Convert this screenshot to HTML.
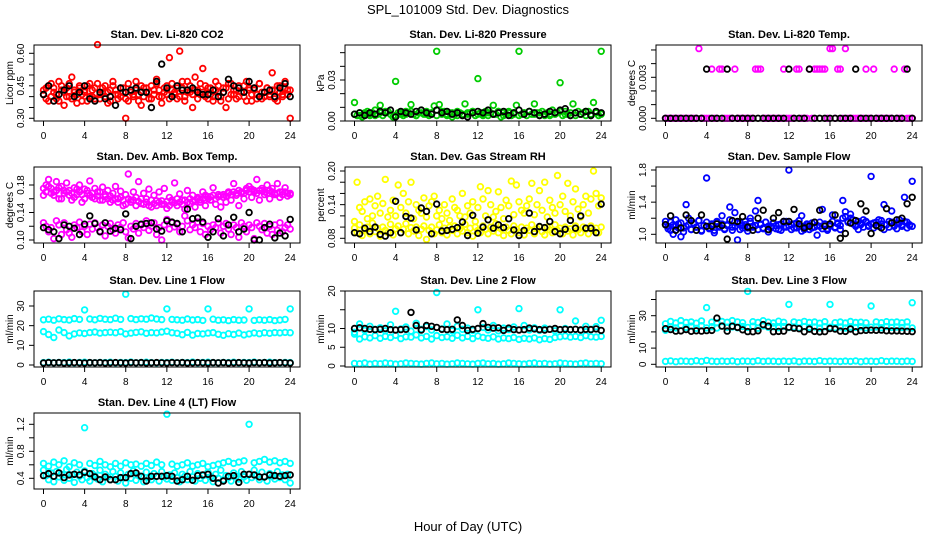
<!DOCTYPE html>
<html><head><meta charset="utf-8"><style>
html,body{margin:0;padding:0;background:#fff}
svg{display:block}
text{font-family:"Liberation Sans",Arial,sans-serif}
</style></head><body>
<svg id="chart" width="936" height="540" viewBox="0 0 936 540" xmlns="http://www.w3.org/2000/svg">
<rect x="0" y="0" width="936" height="540" fill="#fff"/>
<text x="468" y="14" font-size="13" text-anchor="middle">SPL_101009  Std. Dev. Diagnostics</text>
<text x="468" y="531" font-size="13" text-anchor="middle">Hour of Day (UTC)</text>
</svg>
<script>
// ---- data (hour comes from sample index over 0..24) ----
const xTicks = [0,4,8,12,16,20,24];
const co2Red = [0.41,0.44,0.38,0.46,0.42,0.39,0.47,0.43,0.36,0.44,0.40,0.49,0.42,0.37,0.45,0.41,0.43,0.38,0.46,0.40,0.44,0.64,0.39,0.42,0.45,0.37,0.43,0.47,0.41,0.39,0.44,0.42,0.30,0.38,0.43,0.40,0.47,0.41,0.36,0.44,0.42,0.39,0.45,0.43,0.48,0.40,0.37,0.44,0.41,0.58,0.46,0.42,0.39,0.61,0.44,0.40,0.47,0.42,0.35,0.49,0.43,0.41,0.53,0.45,0.39,0.44,0.40,0.47,0.42,0.38,0.44,0.35,0.46,0.41,0.43,0.39,0.45,0.42,0.40,0.47,0.43,0.38,0.44,0.41,0.46,0.39,0.42,0.44,0.40,0.51,0.43,0.38,0.45,0.41,0.47,0.43,0.30];
const co2Red2 = [0.43,0.39,0.45,0.40,0.44,0.41,0.38,0.45,0.42,0.40,0.46,0.39,0.43,0.41,0.44,0.38,0.42,0.45,0.40,0.43,0.39,0.46,0.41,0.44,0.40,0.42,0.38,0.45,0.43,0.41,0.40,0.44,0.39,0.46,0.42,0.41,0.43,0.38,0.45,0.40,0.44,0.42,0.39,0.41,0.46,0.43,0.40,0.42,0.45,0.39,0.43,0.41,0.44,0.40,0.47,0.38,0.42,0.45,0.41,0.43,0.39,0.46,0.42,0.40,0.44,0.41,0.38,0.43,0.45,0.40,0.42,0.44,0.39,0.46,0.41,0.43,0.40,0.42,0.45,0.38,0.44,0.41,0.43,0.39,0.46,0.42,0.40,0.44,0.41,0.43,0.39,0.45,0.42,0.40,0.44,0.41,0.43];
const co2Blk = [0.41,0.45,0.38,0.41,0.43,0.45,0.40,0.42,0.45,0.39,0.38,0.42,0.39,0.40,0.36,0.44,0.42,0.43,0.44,0.42,0.42,0.35,0.47,0.55,0.44,0.40,0.45,0.43,0.43,0.44,0.42,0.41,0.41,0.43,0.40,0.42,0.48,0.45,0.44,0.42,0.47,0.44,0.40,0.42,0.43,0.40,0.44,0.46,0.40];

const pressGreen = [0.0135,0.004,0.006,0.003,0.005,0.007,0.004,0.006,0.008,0.005,0.0115,0.004,0.006,0.007,0.005,0.003,0.029,0.006,0.005,0.004,0.007,0.006,0.012,0.005,0.004,0.006,0.008,0.005,0.007,0.004,0.006,0.011,0.051,0.012,0.005,0.007,0.004,0.006,0.003,0.005,0.007,0.006,0.004,0.0125,0.005,0.006,0.007,0.004,0.031,0.006,0.005,0.007,0.004,0.006,0.0115,0.005,0.007,0.003,0.006,0.005,0.007,0.004,0.006,0.0115,0.051,0.005,0.006,0.004,0.007,0.005,0.0125,0.006,0.004,0.007,0.005,0.006,0.004,0.008,0.005,0.006,0.028,0.004,0.007,0.005,0.006,0.0125,0.004,0.007,0.005,0.006,0.004,0.007,0.005,0.0135,0.006,0.004,0.051];
const pressGreen2 = [0.005,0.004,0.006,0.005,0.004,0.006,0.007,0.005,0.004,0.006,0.005,0.007,0.004,0.006,0.005,0.006,0.004,0.007,0.005,0.006,0.004,0.005,0.006,0.007,0.005,0.004,0.006,0.005,0.007,0.004,0.006,0.005,0.004,0.006,0.007,0.005,0.006,0.004,0.005,0.006,0.007,0.005,0.004,0.006,0.005,0.007,0.004,0.006,0.005];
const pressBlk = [0.005,0.006,0.004,0.006,0.005,0.007,0.006,0.008,0.003,0.007,0.006,0.005,0.007,0.008,0.006,0.005,0.008,0.006,0.007,0.005,0.006,0.004,0.003,0.006,0.007,0.006,0.008,0.005,0.006,0.007,0.004,0.006,0.008,0.005,0.007,0.006,0.004,0.005,0.007,0.006,0.008,0.009,0.004,0.006,0.005,0.007,0.004,0.007,0.006];

const tempMag = [0,0,0,0,0,0,0,0,0,0,0,0,0,0.0051,0,0,0,0,0.0036,0,0,0.0036,0.0036,0,0,0,0,0.0036,0,0,0,0,0,0,0,0.0036,0.0036,0.0036,0,0,0,0,0,0,0,0,0.0036,0,0,0,0,0.0036,0.0036,0,0,0,0.0036,0,0.0036,0.0036,0.0036,0.0036,0.0036,0,0.0051,0.0051,0,0.0036,0.0036,0,0.0051,0,0,0,0,0,0,0,0.0036,0,0,0.0036,0,0,0,0,0,0,0,0.0036,0,0,0,0.0036,0,0,0];
const tempBlk = [0,0,0,0,0,0,0,0,0.0036,0,0,0,0.0036,0,0,0,0,0,0,0,0,0,0,0,0.0036,0,0,0,0.0036,0,0,0,0,0,0,0,0,0.0036,0,0,0,0,0,0,0,0,0,0.0036,0];

const ambUpper = [0.165,0.18,0.188,0.175,0.17,0.185,0.16,0.178,0.168,0.183,0.172,0.158,0.176,0.166,0.18,0.155,0.174,0.168,0.186,0.162,0.175,0.17,0.158,0.177,0.163,0.172,0.155,0.168,0.178,0.16,0.171,0.15,0.166,0.196,0.158,0.17,0.162,0.185,0.153,0.168,0.16,0.174,0.148,0.165,0.157,0.17,0.152,0.175,0.146,0.162,0.155,0.183,0.15,0.167,0.158,0.145,0.172,0.153,0.165,0.148,0.16,0.155,0.17,0.15,0.163,0.158,0.176,0.152,0.166,0.148,0.162,0.155,0.17,0.158,0.182,0.165,0.15,0.168,0.16,0.175,0.178,0.162,0.17,0.188,0.158,0.172,0.166,0.18,0.16,0.175,0.168,0.182,0.162,0.17,0.176,0.164,0.168];
const ambUpper2 = [0.175,0.17,0.178,0.168,0.165,0.172,0.176,0.16,0.172,0.17,0.165,0.168,0.162,0.174,0.17,0.166,0.16,0.172,0.165,0.168,0.16,0.164,0.17,0.158,0.166,0.16,0.164,0.158,0.16,0.155,0.162,0.158,0.152,0.16,0.155,0.158,0.15,0.156,0.16,0.152,0.155,0.15,0.158,0.153,0.15,0.155,0.157,0.152,0.156,0.15,0.158,0.154,0.16,0.155,0.152,0.158,0.155,0.16,0.156,0.158,0.162,0.158,0.16,0.165,0.16,0.163,0.165,0.16,0.163,0.165,0.166,0.164,0.168,0.166,0.17,0.168,0.172,0.17,0.168,0.172,0.17,0.174,0.172,0.168,0.172,0.175,0.17,0.168,0.172,0.17,0.166,0.168,0.17,0.166,0.17,0.168,0.166];
const ambLower = [0.125,0.12,0.112,0.118,0.102,0.128,0.122,0.108,0.125,0.115,0.11,0.104,0.122,0.118,0.126,0.112,0.12,0.108,0.123,0.116,0.125,0.118,0.113,0.122,0.106,0.12,0.124,0.115,0.11,0.122,0.118,0.125,0.112,0.103,0.12,0.116,0.124,0.11,0.122,0.118,0.128,0.114,0.12,0.125,0.108,0.118,0.1,0.122,0.13,0.116,0.125,0.119,0.123,0.112,0.12,0.135,0.128,0.115,0.122,0.118,0.126,0.112,0.124,0.108,0.12,0.115,0.122,0.118,0.125,0.11,0.12,0.124,0.116,0.108,0.122,0.118,0.104,0.125,0.12,0.112,0.122,0.118,0.102,0.125,0.12,0.115,0.124,0.11,0.12,0.108,0.122,0.114,0.125,0.112,0.118,0.122,0.116];
const ambBlk = [0.118,0.115,0.112,0.102,0.122,0.12,0.117,0.108,0.123,0.135,0.124,0.112,0.125,0.113,0.117,0.115,0.138,0.102,0.12,0.123,0.124,0.125,0.116,0.113,0.128,0.126,0.124,0.112,0.145,0.131,0.132,0.126,0.104,0.112,0.131,0.106,0.122,0.133,0.112,0.116,0.14,0.1,0.1,0.118,0.123,0.103,0.11,0.106,0.13];

const rhLow = [0.098,0.09,0.104,0.085,0.095,0.1,0.088,0.107,0.092,0.098,0.084,0.1,0.094,0.09,0.105,0.086,0.097,0.102,0.09,0.096,0.106,0.088,0.099,0.093,0.1,0.085,0.096,0.102,0.078,0.094,0.1,0.088,0.095,0.104,0.09,0.098,0.086,0.1,0.094,0.102,0.088,0.097,0.093,0.105,0.09,0.098,0.084,0.1,0.094,0.09,0.102,0.096,0.088,0.1,0.093,0.106,0.09,0.097,0.085,0.1,0.094,0.088,0.102,0.096,0.09,0.1,0.086,0.098,0.094,0.104,0.088,0.097,0.1,0.092,0.086,0.1,0.095,0.09,0.104,0.094,0.098,0.088,0.1,0.093,0.097,0.086,0.102,0.095,0.09,0.1,0.096,0.088,0.102,0.094,0.098,0.09,0.1];
const rhHigh = [0.11,0.18,0.135,0.128,0.145,0.115,0.15,0.12,0.138,0.155,0.125,0.142,0.185,0.118,0.13,0.148,0.12,0.175,0.135,0.16,0.125,0.145,0.18,0.115,0.14,0.13,0.125,0.152,0.118,0.138,0.145,0.155,0.12,0.13,0.115,0.14,0.125,0.112,0.15,0.135,0.13,0.12,0.16,0.118,0.138,0.125,0.145,0.11,0.135,0.172,0.15,0.12,0.165,0.14,0.118,0.128,0.163,0.135,0.115,0.148,0.138,0.182,0.122,0.175,0.145,0.13,0.125,0.138,0.15,0.178,0.122,0.14,0.165,0.13,0.18,0.118,0.148,0.135,0.125,0.192,0.14,0.155,0.128,0.178,0.12,0.145,0.168,0.132,0.118,0.14,0.155,0.125,0.15,0.2,0.16,0.138,0.152];
const rhBlk = [0.09,0.088,0.098,0.092,0.1,0.087,0.084,0.09,0.146,0.09,0.119,0.116,0.095,0.134,0.128,0.088,0.141,0.093,0.094,0.096,0.099,0.109,0.085,0.121,0.089,0.1,0.113,0.098,0.104,0.099,0.115,0.095,0.085,0.094,0.125,0.092,0.101,0.099,0.11,0.092,0.088,0.096,0.112,0.098,0.12,0.098,0.098,0.09,0.141];

const sfBlue = [1.16,1.1,1.05,1.12,1.18,1.08,1.14,1.03,1.1,1.2,1.06,1.13,1.09,1.17,1.04,1.11,1.15,1.07,1.12,1.02,1.16,1.09,1.13,1.06,1.11,1.18,1.05,1.1,0.93,1.14,1.08,1.12,1.04,1.16,1.09,1.11,1.06,1.13,1.08,1.15,1.03,1.1,1.14,1.07,1.12,1.05,1.16,1.09,1.11,1.06,1.13,1.08,1.17,1.04,1.1,1.12,1.06,1.14,1.09,1.11,1.15,1.07,1.12,1.05,1.1,1.16,1.08,1.13,1.06,1.2,1.22,1.15,1.25,1.18,1.12,1.06,1.14,1.09,1.16,1.11,1.13,1.08,1.15,1.1,1.17,1.06,1.12,1.09,1.15,1.11,1.07,1.14,1.1,1.16,1.08,1.12,1.1];
const sfBlue2 = [1.12,1.07,1.15,1.0,1.1,1.13,0.97,1.08,1.37,1.12,1.06,1.14,1.09,1.17,1.05,1.11,1.7,1.08,1.13,1.05,1.15,1.1,1.23,1.07,1.12,1.34,1.09,1.27,1.14,1.06,1.11,1.16,1.08,1.2,1.1,1.29,1.42,1.12,1.07,1.15,1.1,1.08,1.14,1.11,1.06,1.13,1.09,1.16,1.8,1.12,1.08,1.14,1.1,1.23,1.06,1.13,1.11,1.08,1.15,0.99,1.1,1.31,1.13,1.07,1.12,1.24,1.09,1.14,1.11,1.42,1.28,1.16,1.2,1.13,1.1,1.16,1.12,1.18,1.15,1.1,1.72,1.14,1.11,1.18,1.13,1.37,1.12,1.16,1.29,1.1,1.14,1.18,1.12,1.46,1.15,1.11,1.66];
const sfBlk = [1.12,1.23,1.05,1.08,1.24,1.17,1.05,1.24,1.1,1.1,1.13,1.11,0.94,1.17,1.16,1.22,1.09,1.05,1.2,1.3,1.06,1.2,1.27,1.16,1.16,1.31,1.13,1.08,1.1,1.15,1.3,1.1,1.13,1.24,0.95,1.01,1.14,1.17,1.38,1.29,1.01,1.11,1.08,1.32,1.14,1.18,1.2,1.38,1.46];

const l1Top = [23,23.3,22.8,23.5,23.1,22.9,23.6,23.2,28,23.4,23,23.7,23.3,23.1,23.8,23.2,36,23.6,23.1,23.5,23.3,23.9,23.4,23.1,28.5,23.2,23,22.8,23.4,22.9,23.1,22.7,28.5,23.3,22.8,23,22.6,23.1,22.8,22.9,28.5,22.7,23,22.8,23.1,22.6,22.9,23.2,28.5];
const l1Mid = [17,15.5,14,17.8,16.5,14.8,15.8,16.3,16,16.5,16.8,16.2,16.5,16.7,16.4,17,15.8,16.2,16.6,16.9,16.1,16.5,16.3,16.8,17.2,16.4,16.1,15.4,16.6,15.2,16,15.8,16.2,16.5,15.6,15.1,15.9,15.5,16.2,15.3,15.8,16.3,15.9,16.4,16.1,16.5,16.3,16.6,16.4];
const l1Zero = [1.2,1.4,1.1,1.3,1.2,1.5,1.1,1.3,1.4,1.2,1.1,1.3,1.2,1.4,1.1,1.3,1.2,1.5,1.1,1.3,1.4,1.2,1.1,1.3,1.2,1.4,1.1,1.3,1.2,1.5,1.1,1.3,1.4,1.2,1.1,1.3,1.2,1.4,1.1,1.3,1.2,1.5,1.1,1.3,1.4,1.2,1.1,1.3,1.2];
const l1Blk = [1,1.2,1.1,1.2,1,1.1,1.2,1.1,1,1.2,1.1,1.2,1,1.1,1.2,1.1,1,1.2,1.1,1.2,1,1.1,1.2,1.1,1,1.2,1.1,1.2,1,1.1,1.2,1.1,1,1.2,1.1,1.2,1,1.1,1.2,1.1,1,1.2,1.1,1.2,1,1.1,1.2,1.1,1];

const l2Low = [8.5,7.2,7.8,7.5,8.1,7.4,7.9,7.6,8.2,7.3,7.8,7.7,8.3,7.5,7.9,7.2,8.1,7.6,7.8,7.4,8.2,7.5,7.9,7.3,8,7.6,7.4,7.8,7.2,7.5,7.3,7.6,7.1,7.4,7.2,7.5,7,7.3,7.1,7.6,7.8,8,7.7,7.9,7.6,8.1,7.8,7.7,7.9];
const l2Mid = [9,11.2,9.5,10.6,9.8,10.2,9.4,11,14.6,9.9,10.4,9.3,11.4,9.8,10.5,9.6,19.6,9.9,11.2,9.4,10.6,9.8,10.1,9.5,15,10.3,9.6,10.8,9.4,10.1,9.7,10.4,15.3,10.8,9.6,10.2,9.5,10.1,9.8,9.4,15,10,9.7,12,9.6,10.6,9.8,10.5,12.2];
const l2Zero = [0.7,0.6,0.8,0.5,0.7,0.6,0.8,0.7,0.5,0.6,0.8,0.7,0.6,0.5,0.7,0.8,0.6,0.7,0.5,0.6,0.8,0.7,0.6,0.5,0.7,0.8,0.6,0.7,0.5,0.6,0.8,0.7,0.6,0.5,0.7,0.8,0.6,0.7,0.5,0.6,0.8,0.7,0.6,0.5,0.7,0.8,0.6,0.7,0.6];
const l2Blk = [10,10.2,10,9.8,9.7,9.8,10,9.7,9.6,9.7,9.8,14.3,10.8,9.6,10.8,10.6,10.3,9.8,9.7,9.8,12.3,10.8,9.5,9.8,10,11.3,10.3,10.1,10.2,9.5,10.1,9.7,9.6,9.7,10.1,9.9,9.7,9.6,9.8,10,9.7,9.8,9.7,9.8,9.6,9.8,9.7,9.9,9.5];

const l3Top = [25,26.5,25.5,27,25.8,26.2,25.4,26.8,35,26,25.6,26.4,25.9,27,26.2,25.7,45,26.3,25.8,26.9,26,25.5,26.6,25.9,37,26.2,25.6,26.5,25.8,26.1,25.4,26.3,37,25.7,26.1,25.5,26.4,25.8,26,25.6,36,26.2,25.7,26.3,25.9,26.1,25.6,26.2,38];
const l3Mid = [21,23,22.5,24,22.8,23.5,22.2,23.8,22.5,23.2,22.4,23.6,22.9,23.1,22.6,23.4,22.8,23.5,22.3,23.7,22.9,23.2,22.6,23.4,22.7,23,22.4,23.3,22.8,23.1,22.5,23.2,22.9,22.6,23.1,22.4,23,22.8,23.2,22.5,22.9,23.1,22.6,23.3,22.8,23,22.7,23.1,22.5];
const l3Zero = [1.8,2.1,1.6,2,1.9,1.7,2.2,1.8,2.4,1.9,1.7,2,1.8,2.1,1.6,2,1.9,1.7,2.2,1.8,2,1.9,1.7,2,1.8,2.1,1.6,2,1.9,1.7,2.2,1.8,2,1.9,1.7,2,1.8,2.1,1.6,2,1.9,1.7,2.2,1.8,2,1.9,1.7,2,1.8];
const l3Blk = [22,21.5,20.5,20.6,21.5,20.4,20.7,20.5,20.8,20.9,28.5,23.6,20.5,23.5,22.8,21.3,20.2,20.1,20.7,24.5,23.5,20.1,20.3,20.5,22.9,22.3,22,20.1,21.7,20.3,20,20.2,22.1,21.8,20.5,20.3,21.8,20.1,20.8,21,21.1,21,21.1,20.7,20.6,20.6,20.5,20.4,20.2];

const l4Top = [0.62,0.58,0.64,0.6,0.66,0.57,0.63,0.6,1.15,0.62,0.59,0.65,0.6,0.57,0.62,0.58,0.63,0.6,0.61,0.58,0.62,0.59,0.64,0.6,1.35,0.61,0.58,0.6,0.63,0.58,0.6,0.62,0.57,0.59,0.61,0.63,0.65,0.62,0.64,0.66,1.2,0.63,0.65,0.68,0.64,0.66,0.63,0.65,0.62];
const l4Low = [0.52,0.44,0.38,0.48,0.35,0.5,0.42,0.46,0.37,0.53,0.4,0.45,0.34,0.49,0.43,0.38,0.51,0.41,0.36,0.47,0.44,0.39,0.52,0.35,0.46,0.42,0.38,0.5,0.43,0.36,0.48,0.41,0.33,0.46,0.4,0.51,0.37,0.44,0.42,0.35,0.49,0.41,0.38,0.47,0.43,0.36,0.5,0.42,0.39,0.45,0.37,0.48,0.41,0.35,0.46,0.43,0.38,0.5,0.42,0.36,0.47,0.4,0.44,0.37,0.49,0.42,0.35,0.46,0.4,0.52,0.38,0.44,0.41,0.36,0.48,0.43,0.39,0.5,0.42,0.37,0.46,0.41,0.52,0.44,0.38,0.49,0.42,0.36,0.47,0.43,0.39,0.5,0.41,0.45,0.38,0.46,0.33];
const l4Blk = [0.44,0.47,0.43,0.48,0.41,0.45,0.46,0.45,0.49,0.47,0.42,0.38,0.42,0.38,0.38,0.41,0.41,0.47,0.48,0.43,0.36,0.43,0.43,0.43,0.44,0.43,0.36,0.38,0.43,0.37,0.44,0.45,0.46,0.4,0.33,0.36,0.43,0.44,0.34,0.46,0.46,0.45,0.42,0.42,0.45,0.44,0.43,0.44,0.45];

// ---- layout (not data) ----
const colLeft = [34,345,656], rowTop = [45,167,291,413], boxW = 266, boxH = 76;
const panels = [
 {name:'co2',title:'Stan. Dev. Li-820 CO2',ylab:'Licor ppm',c:0,r:0,ref:[0.30,118.3,0.60,53.3],ticks:[0.30,0.35,0.40,0.45,0.50,0.55,0.60],labels:['0.30','0.45','0.60'],series:[[co2Red,'#ff0000'],[co2Red2,'#ff0000'],[co2Blk,'#000']]},
 {name:'pressure',title:'Stan. Dev. Li-820 Pressure',ylab:'kPa',c:1,r:0,ref:[0,121,0.03,80],ticks:[0,0.01,0.02,0.03,0.04,0.05],labels:['0.00','0.03'],series:[[pressGreen,'#00cc00'],[pressGreen2,'#00cc00'],[pressBlk,'#000']]},
 {name:'temp',title:'Stan. Dev. Li-820 Temp.',ylab:'degrees C',c:2,r:0,ref:[0,118.3,0.003,77.3],ticks:[0,0.001,0.002,0.003,0.004,0.005],labels:['0.000','0.003'],series:[[tempMag,'#ff00ff'],[tempBlk,'#000']]},
 {name:'amb-box',title:'Stan. Dev. Amb. Box Temp.',ylab:'degrees C',c:0,r:1,ref:[0.10,240,0.18,185],ticks:[0.10,0.12,0.14,0.16,0.18],labels:['0.10','0.14','0.18'],series:[[ambUpper,'#ff00ff'],[ambUpper2,'#ff00ff'],[ambLower,'#ff00ff'],[ambBlk,'#000']]},
 {name:'gas-rh',title:'Stan. Dev. Gas Stream RH',ylab:'percent',c:1,r:1,ref:[0.08,238.3,0.20,171],ticks:[0.08,0.10,0.12,0.14,0.16,0.18,0.20],labels:['0.08','0.14','0.20'],series:[[rhLow,'#ffff00'],[rhHigh,'#ffff00'],[rhBlk,'#000']]},
 {name:'sample-flow',title:'Stan. Dev. Sample Flow',ylab:'ml/min',c:2,r:1,ref:[1.0,234.3,1.8,170],ticks:[1.0,1.2,1.4,1.6,1.8],labels:['1.0','1.4','1.8'],series:[[sfBlue,'#0000ff'],[sfBlue2,'#0000ff'],[sfBlk,'#000']]},
 {name:'line1',title:'Stan. Dev. Line 1 Flow',ylab:'ml/min',c:0,r:2,ref:[0,365,30,306],ticks:[0,10,20,30],labels:['0','10','20','30'],series:[[l1Top,'#00ffff'],[l1Mid,'#00ffff'],[l1Zero,'#00ffff'],[l1Blk,'#000']]},
 {name:'line2',title:'Stan. Dev. Line 2 Flow',ylab:'ml/min',c:1,r:2,ref:[0,366,20,291],ticks:[0,5,10,15,20],labels:['0','5','10','20'],series:[[l2Low,'#00ffff'],[l2Mid,'#00ffff'],[l2Zero,'#00ffff'],[l2Blk,'#000']]},
 {name:'line3',title:'Stan. Dev. Line 3 Flow',ylab:'ml/min',c:2,r:2,ref:[0,364.3,30,315.7],ticks:[0,10,20,30,40],labels:['0','10','30'],series:[[l3Top,'#00ffff'],[l3Mid,'#00ffff'],[l3Zero,'#00ffff'],[l3Blk,'#000']]},
 {name:'line4',title:'Stan. Dev. Line 4 (LT) Flow',ylab:'ml/min',c:0,r:3,ref:[0.4,478.3,1.2,424.3],ticks:[0.4,0.6,0.8,1.0,1.2],labels:['0.4','0.8','1.2'],series:[[l4Top,'#00ffff'],[l4Low,'#00ffff'],[l4Blk,'#000']]}
];

const NS='http://www.w3.org/2000/svg';
const svg=document.getElementById('chart');
function mk(tag,attrs,parent){const e=document.createElementNS(NS,tag);for(const k in attrs)e.setAttribute(k,attrs[k]);(parent||svg).appendChild(e);return e;}

panels.forEach(p=>{
  const L=colLeft[p.c], T=rowTop[p.r], B=T+boxH, R=L+boxW;
  const g=mk('g',{});
  
  
  const xs=h=>L+9.5+h*10.28;
  const [v1,p1,v2,p2]=p.ref;
  const ys=v=>p1+(v-v1)*(p2-p1)/(v2-v1);
  p.series.forEach(s=>{
    const vals=s[0], n=vals.length;
    vals.forEach((v,i)=>{
      const h=i*24/(n-1);
      const c=mk('circle',{cx:xs(h).toFixed(1),cy:ys(v).toFixed(1),r:2.8,fill:'none',stroke:s[1],'stroke-width':1.8},g);
      
      
    });
  });
  const box=mk('rect',{x:L,y:T,width:boxW,height:boxH,fill:'none',stroke:'#000','stroke-width':1},g);
  
  
  const t=mk('text',{x:(L+R)/2,y:T-7,'font-size':11,'font-weight':'bold','text-anchor':'middle'},g);
  t.textContent=p.title;
  
  
  mk('line',{x1:xs(0),y1:B,x2:xs(24),y2:B,stroke:'#000'},g);
  xTicks.forEach(h=>{
    mk('line',{x1:xs(h),y1:B,x2:xs(h),y2:B+5,stroke:'#000'},g);
    const tl=mk('text',{x:xs(h),y:B+18,'font-size':10,'text-anchor':'middle'},g);
    tl.textContent=h;
    
    
  });
  mk('line',{x1:L,y1:ys(p.ticks[0]),x2:L,y2:ys(p.ticks[p.ticks.length-1]),stroke:'#000'},g);
  p.ticks.forEach(v=>{
    mk('line',{x1:L-5,y1:ys(v),x2:L,y2:ys(v),stroke:'#000'},g);
  });
  p.labels.forEach(lb=>{
    const y=ys(parseFloat(lb));
    const tl=mk('text',{x:L-10,y:y,'font-size':10,'text-anchor':'middle',transform:`rotate(-90 ${L-10} ${y})`},g);
    tl.textContent=lb;
    
    
  });
  const yl=mk('text',{x:L-21,y:(T+B)/2,'font-size':10,'text-anchor':'middle',transform:`rotate(-90 ${L-21} ${(T+B)/2})`},g);
  yl.textContent=p.ylab;
  
  
});
</script>
</body></html>
